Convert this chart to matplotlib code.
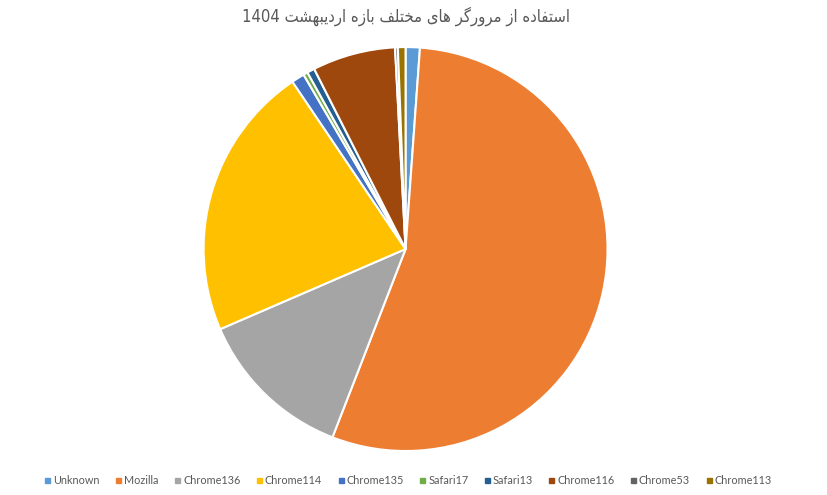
import matplotlib
matplotlib.use("Agg")
from matplotlib import pyplot as plt
from matplotlib.lines import Line2D

title_fa = "استفاده از مرورگر های مختلف بازه اردیبهشت"
title_num = "1404"

labels = ["Unknown", "Mozilla", "Chrome136", "Chrome114", "Chrome135",
          "Safari17", "Safari13", "Chrome116", "Chrome53", "Chrome113"]
shares = [1.14, 54.75, 12.61, 22.03, 1.04, 0.35, 0.60, 6.64, 0.22, 0.61]
colors = ["#5B9BD5", "#ED7D31", "#A5A5A5", "#FFC000", "#4472C4",
          "#70AD47", "#255E91", "#9E480E", "#636363", "#997300"]

# presentation forms: isolated, final, initial, medial (None = right-joining only)
FORMS = {
    "\u0627": ("\uFE8D", "\uFE8E", None, None),
    "\u062F": ("\uFEA9", "\uFEAA", None, None),
    "\u0631": ("\uFEAD", "\uFEAE", None, None),
    "\u0632": ("\uFEAF", "\uFEB0", None, None),
    "\u0648": ("\uFEED", "\uFEEE", None, None),
    "\u0628": ("\uFE8F", "\uFE90", "\uFE91", "\uFE92"),
    "\u062A": ("\uFE95", "\uFE96", "\uFE97", "\uFE98"),
    "\u062E": ("\uFEA5", "\uFEA6", "\uFEA7", "\uFEA8"),
    "\u0633": ("\uFEB1", "\uFEB2", "\uFEB3", "\uFEB4"),
    "\u0634": ("\uFEB5", "\uFEB6", "\uFEB7", "\uFEB8"),
    "\u0641": ("\uFED1", "\uFED2", "\uFED3", "\uFED4"),
    "\u0644": ("\uFEDD", "\uFEDE", "\uFEDF", "\uFEE0"),
    "\u0645": ("\uFEE1", "\uFEE2", "\uFEE3", "\uFEE4"),
    "\u0647": ("\uFEE9", "\uFEEA", "\uFEEB", "\uFEEC"),
    "\u06AF": ("\uFB92", "\uFB93", "\uFB94", "\uFB95"),
    "\u06CC": ("\uFBFC", "\uFBFD", "\uFBFE", "\uFBFF"),
}


def shape(text):
    out = []
    for i, ch in enumerate(text):
        if ch not in FORMS:
            out.append(ch)
            continue
        prev = text[i - 1] if i > 0 else ""
        nxt = text[i + 1] if i + 1 < len(text) else ""
        join_prev = prev in FORMS and FORMS[prev][2] is not None
        join_next = nxt in FORMS and FORMS[ch][2] is not None
        iso, fin, ini, med = FORMS[ch]
        if join_prev and join_next:
            out.append(med)
        elif join_prev:
            out.append(fin)
        elif join_next:
            out.append(ini)
        else:
            out.append(iso)
    return "".join(out)[::-1]


fig = plt.figure(figsize=(8.28, 4.95), dpi=100)
ax = fig.add_axes([0.2434, 0.0848, 0.4928, 0.8242])
ax.pie(shares, colors=colors, startangle=90, counterclock=False,
       wedgeprops={"edgecolor": "white", "linewidth": 1.5})
ax.set_xlim(-1.01, 1.01)
ax.set_ylim(-1.01, 1.01)
ax.set_aspect("equal")
ax.axis("off")

fig.text(0.49, 0.967, title_num + " " + shape(title_fa), ha="center", va="center",
         fontsize=12, fontstretch="condensed", color="#595959",
         family=["DejaVu Sans"])

handles = [Line2D([], [], marker="s", linestyle="none", markersize=3.6,
                  markerfacecolor=c, markeredgecolor=c) for c in colors]
fig.legend(handles, labels, loc="center", bbox_to_anchor=(0.493, 1 - 480 / 495),
           ncol=10, frameon=False, handlelength=0.5, handletextpad=0.3,
           columnspacing=1.45, prop={"family": "Lato", "size": 7.8},
           labelcolor="#595959")

fig.savefig("out.png", dpi=100)
